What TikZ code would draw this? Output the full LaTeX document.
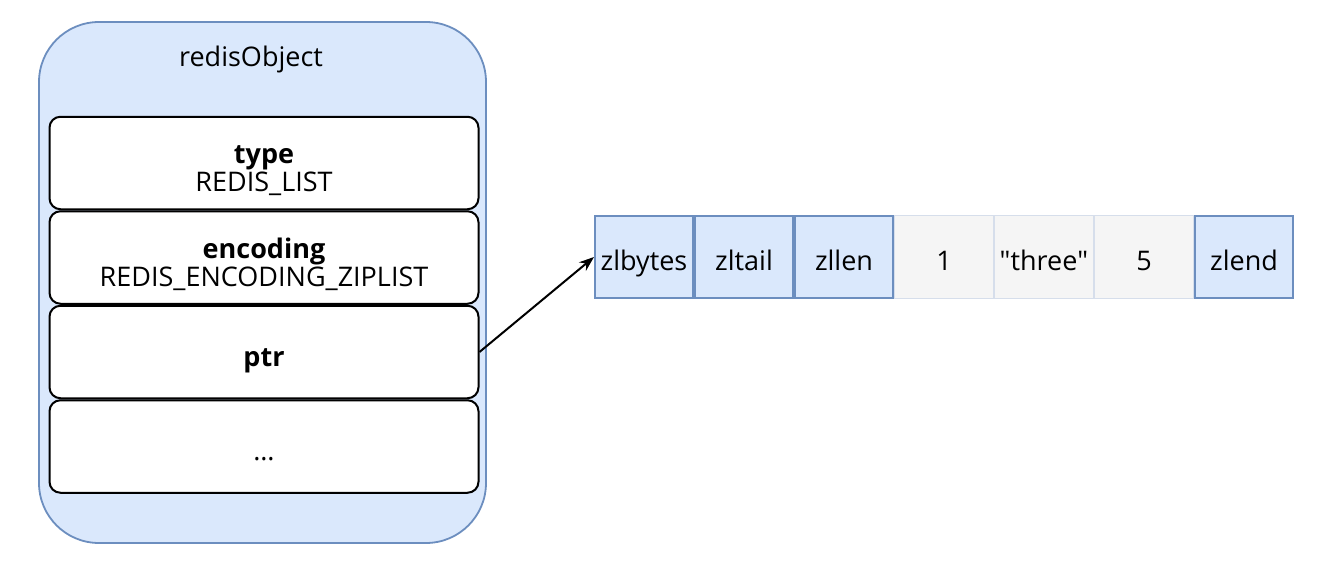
\documentclass[tikz,border=0pt]{standalone}
\usepackage{fontspec}
\setmainfont{Open Sans}
\usetikzlibrary{positioning,arrows.meta}
\definecolor{objblue}{RGB}{218,232,252}
\definecolor{objedge}{RGB}{108,142,191}
\definecolor{cellgray}{RGB}{245,245,245}
\definecolor{grayedge}{RGB}{214,222,235}

\begin{document}
\begin{tikzpicture}[x=1pt, y=-1pt, node distance=0pt, >={Stealth[length=15pt, width=11pt]},
		every node/.style={font=\fontsize{27}{28}\selectfont},
		objbox/.style={draw=objedge, fill=objblue, line width=1.8pt, rectangle, rounded corners=60pt, minimum width=447pt, minimum height=521pt},
		fieldbox/.style={draw=black, fill=white, line width=2pt, rectangle, rounded corners=11pt, minimum width=429pt, minimum height=92.5pt, inner sep=0pt},
		fieldtext/.style={align=center, yshift=-8.5pt, inner sep=0pt},
		bluecell/.style={draw=objedge, fill=objblue, line width=1.8pt, rectangle, minimum width=98.2pt, minimum height=82.2pt, inner sep=0pt, text height=28pt, text depth=2pt},
		graycell/.style={draw=grayedge, fill=cellgray, line width=1.2pt, rectangle, minimum width=98.8pt, minimum height=82.8pt, inner sep=0pt, text height=28pt, text depth=2pt},
		ptrLine/.style={line width=2pt, ->, color=black}
		]
		\useasboundingbox (0,0) rectangle (1331,570);
		
		\node[objbox](obj) at (262.5,282.5) {};
		\node[](objname) at (251,59) {redisObject};
		
		\node[fieldbox, label={[fieldtext]center:{\strut\textbf{type}\\\strut REDIS\_LIST}}](type) at (264,163) {};
		\node[fieldbox, label={[fieldtext]center:{\strut\textbf{encoding}\\\strut REDIS\_ENCODING\_ZIPLIST}}](enc) [below=of type] {};
		\node[fieldbox, label={[fieldtext]center:{\strut\textbf{ptr}}}](ptr) [below=of enc] {};
		\node[fieldbox, label={[fieldtext]center:{\strut\dots}}](more) [below=of ptr] {};
		
		\node[bluecell](zlbytes) at (644,257) {zlbytes};
		\node[bluecell](zltail) [right=of zlbytes] {zltail};
		\node[bluecell](zllen) [right=of zltail] {zllen};
		\node[graycell](e1) [right=of zllen] {1};
		\node[graycell](e2) [right=of e1] {\textquotedbl three\textquotedbl};
		\node[graycell](e3) [right=of e2] {5};
		\node[bluecell](zlend) [right=of e3] {zlend};
		
		\draw [ptrLine] (ptr.east) -- (zlbytes.west);
\end{tikzpicture}
\end{document}
